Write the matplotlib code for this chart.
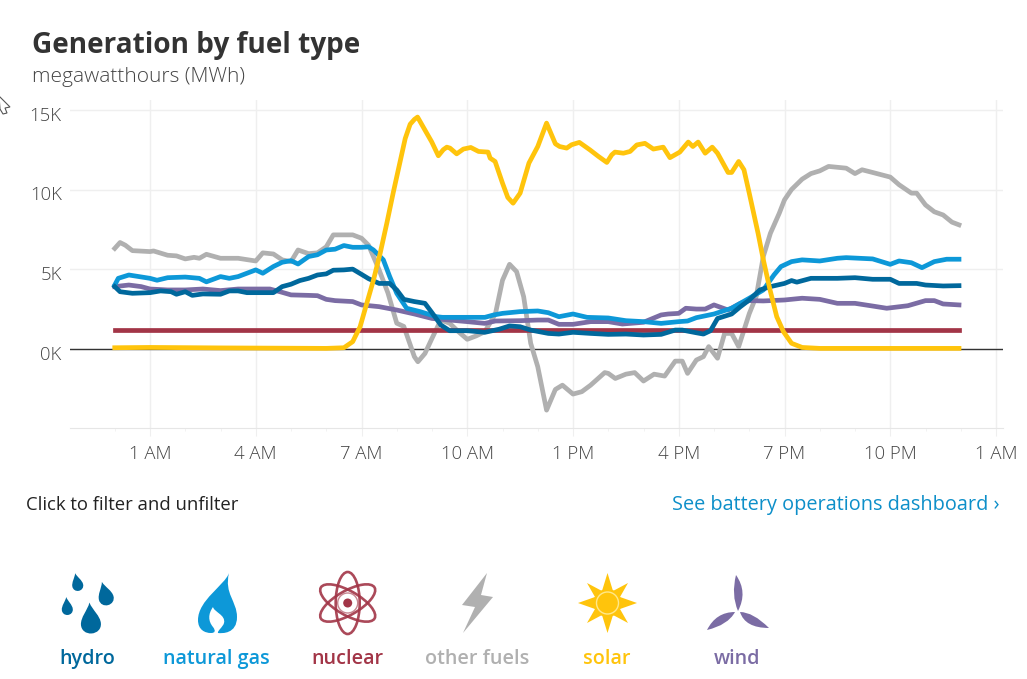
import matplotlib
matplotlib.use("Agg")
import matplotlib.pyplot as plt
from matplotlib.patches import Circle, Ellipse, PathPatch, Polygon
from matplotlib.path import Path
from matplotlib.ticker import FixedLocator
from matplotlib.transforms import Affine2D, ScaledTranslation

W, H = 1027, 679
plt.rcParams['font.family'] = ['Open Sans', 'DejaVu Sans']

HYDRO = '#00689c'
GAS = '#0d98d8'
NUCLEAR = '#a23547'
OTHER = '#b0b0b0'
SOLAR = '#ffc40c'
WIND = '#7b6ca4'

# readings in hours after midnight / thousand MWh
other_h = [0, .15, .3, .5, 1, 1.1, 1.5, 1.75, 2, 2.25, 2.4, 2.6, 3, 3.5, 4, 4.2, 4.5, 4.75, 5, 5.2, 5.5, 5.75, 6, 6.2, 6.5,
           6.75, 7, 7.2, 7.5, 7.75, 8, 8.2, 8.5, 8.6, 8.8, 9, 9.25, 9.5, 9.75, 10, 10.25, 10.5, 10.8, 11, 11.2, 11.4, 11.6,
           11.8, 12, 12.25, 12.5, 12.7, 13, 13.25, 13.5, 13.9, 14, 14.2, 14.5, 14.75, 15, 15.3, 15.6, 15.9, 16.1, 16.25,
           16.5, 16.7, 16.85, 17.1, 17.3, 17.5, 17.7, 18, 18.2, 18.4, 18.6, 18.85, 19, 19.2, 19.5, 19.75, 20, 20.25, 20.75,
           21, 21.2, 21.5, 22, 22.25, 22.6, 22.75, 23, 23.25, 23.5, 23.75, 23.95]
other_v = [6.3, 6.67, 6.5, 6.16, 6.1, 6.14, 5.87, 5.83, 5.64, 5.74, 5.68, 5.93, 5.68, 5.68, 5.51, 6.02, 5.95, 5.58, 5.47, 6.2,
           5.97, 6.02, 6.4, 7.15, 7.15, 7.15, 6.94, 6.5, 4.95, 3.5, 1.6, 1.4, -0.5, -0.82, -0.3, 0.65, 1.8, 1.6, 1.07, 0.59,
           0.8, 1.07, 2.2, 4.3, 5.3, 4.84, 3.27, 0.34, -1.13, -3.86, -2.56, -2.29, -2.85, -2.7, -2.29, -1.5, -1.55, -1.87,
           -1.6, -1.5, -2.03, -1.6, -1.72, -0.78, -0.78, -1.55, -0.71, -0.5, 0.13, -0.6, 0.96, 0.96, 0.13, 2.2, 3.3, 5.8,
           7.25, 8.5, 9.35, 10, 10.65, 11, 11.17, 11.45, 11.34, 11, 11.24, 11.07, 10.78, 10.3, 9.77, 9.77, 9.03, 8.6, 8.4,
           7.95, 7.78]

gas_h = [0, .1, .4, 1, 1.2, 1.5, 2, 2.4, 2.6, 3, 3.25, 3.5, 4, 4.2, 4.5, 4.75, 5, 5.2, 5.5, 5.75, 6, 6.25, 6.5, 6.75, 7, 7.2,
         7.34, 7.62, 7.8, 8, 8.28, 8.66, 9.13, 9.3, 10, 10.5, 10.75, 11, 11.5, 12, 12.3, 12.6, 13, 13.4, 14, 14.5, 15, 15.5, 16,
         16.25, 16.5, 17, 17.5, 18, 18.4, 18.7, 18.9, 19.2, 19.5, 20, 20.5, 20.75, 21.5, 22, 22.25, 22.6, 22.9, 23.25, 23.6, 23.95]
gas_v = [4.0, 4.42, 4.63, 4.42, 4.3, 4.46, 4.5, 4.42, 4.2, 4.53, 4.42, 4.53, 4.95, 4.74, 5.16, 5.43, 5.53, 5.32, 5.79, 5.9,
         6.2, 6.25, 6.48, 6.37, 6.37, 6.4, 6.2, 5.58, 4.53, 3.48, 2.54, 2.33, 2.01, 1.97, 1.97, 1.97, 2.12, 2.22, 2.33, 2.37, 2.26,
         2.01, 2.18, 1.97, 1.93, 1.76, 1.7, 1.59, 1.7, 1.74, 1.95, 2.18, 2.54, 3.17, 3.69, 4.63, 5.16, 5.47, 5.58, 5.51, 5.68,
         5.72, 5.64, 5.3, 5.51, 5.4, 5.09, 5.47, 5.62, 5.62]

hydro_h = [0, .15, .5, 1, 1.3, 1.6, 1.75, 2, 2.2, 2.5, 3, 3.25, 3.5, 3.75, 4.5, 4.75, 5, 5.25, 5.5, 5.75, 6, 6.2, 6.5, 6.75,
           7, 7.2, 7.5, 7.8, 8, 8.2, 8.5, 8.8, 9, 9.25, 9.5, 10, 10.5, 10.9, 11.2, 11.5, 11.8, 12.3, 12.6, 13, 13.5, 14, 14.5,
           15, 15.5, 15.9, 16.1, 16.5, 16.7, 16.9, 17.1, 17.5, 17.75, 18, 18.3, 18.6, 19, 19.2, 19.35, 19.75, 20.25, 20.5,
           21, 21.5, 22, 22.25, 22.75, 23, 23.5, 23.95]
hydro_v = [3.9, 3.58, 3.48, 3.52, 3.63, 3.58, 3.42, 3.58, 3.35, 3.44, 3.42, 3.63, 3.63, 3.52, 3.52, 3.9, 4.05, 4.28, 4.42, 4.63,
           4.7, 4.93, 4.95, 5.0, 4.67, 4.4, 4.1, 4.1, 3.69, 3.1, 2.96, 2.85, 2.26, 1.49, 1.13, 1.13, 1.03, 1.22, 1.43, 1.38,
           1.17, 0.96, 0.92, 1.03, 0.96, 0.9, 0.92, 0.86, 0.9, 1.17, 1.17, 1.0, 0.92, 1.13, 1.9, 2.18, 2.64, 3.06, 3.69, 3.9,
           4.1, 4.28, 4.18, 4.42, 4.42, 4.42, 4.46, 4.36, 4.36, 4.1, 4.1, 4.0, 3.94, 3.96]

wind_h = [0, .4, .75, 1, 1.5, 2, 2.5, 3, 3.5, 4, 4.4, 4.75, 5, 5.5, 5.75, 6, 6.25, 6.75, 7, 7.5, 8, 8.5, 9, 9.5, 10, 10.5, 10.8,
          11.5, 12, 12.3, 12.6, 13, 13.5, 14, 14.4, 15, 15.5, 15.7, 16, 16.2, 16.5, 16.75, 17, 17.4, 17.75, 18, 18.4, 19, 19.5,
          20, 20.5, 21, 21.5, 21.9, 22.5, 23, 23.25, 23.5, 23.95]
wind_v = [3.9, 4.0, 3.9, 3.75, 3.69, 3.69, 3.75, 3.65, 3.75, 3.75, 3.75, 3.54, 3.38, 3.35, 3.33, 3.1, 3.02, 2.96, 2.75, 2.64, 2.43,
          2.18, 1.9, 1.8, 1.7, 1.59, 1.74, 1.76, 1.8, 1.8, 1.53, 1.53, 1.7, 1.7, 1.55, 1.66, 2.12, 2.18, 2.22, 2.54, 2.49, 2.49,
          2.75, 2.43, 2.85, 3.02, 3.0, 3.06, 3.17, 3.1, 2.85, 2.85, 2.68, 2.54, 2.7, 3.02, 3.02, 2.81, 2.75]

nuclear_h = [0, 6, 12, 18, 23.95]
nuclear_v = [1.17, 1.17, 1.17, 1.17, 1.17]

solar_h = [0, 1, 3, 6, 6.5, 6.75, 6.96, 7.15, 7.34, 7.53, 7.72, 7.9, 8.09, 8.24, 8.38, 8.5, 8.59, 8.85, 8.99, 9.18, 9.32, 9.42, 9.51,
           9.7, 9.89, 10.1, 10.32, 10.59, 10.65, 10.79, 11, 11.15, 11.3, 11.5, 11.75, 12, 12.25, 12.5, 12.62, 12.82, 12.96, 13.18,
           13.48, 13.72, 13.96, 14.1, 14.19, 14.43, 14.62, 14.81, 15.04, 15.28, 15.56, 15.75, 16.03, 16.27, 16.4, 16.55, 16.75,
           16.95, 17.1, 17.4, 17.5, 17.7, 17.85, 18, 18.25, 18.4, 18.59, 18.78, 18.97, 19.2, 19.5, 20, 22, 23.95]
solar_v = [0.06, 0.08, 0.05, 0.02, 0.06, 0.44, 1.38, 2.85, 4.32, 6, 7.9, 9.8, 11.7, 13.2, 14.1, 14.4, 14.55, 13.54, 13.0, 12.12, 12.5,
           12.66, 12.6, 12.24, 12.54, 12.64, 12.39, 12.35, 11.97, 11.76, 10.4, 9.5, 9.14, 9.77, 11.66, 12.7, 14.17, 12.87, 12.7, 12.6,
           12.81, 12.96, 12.49, 12.08, 11.7, 12.18, 12.35, 12.28, 12.39, 12.8, 12.9, 12.54, 12.66, 12.0, 12.35, 12.98, 12.7, 12.98,
           12.28, 12.66, 12.28, 11.07, 11.07, 11.76, 11.24, 9.77, 7.25, 5.58, 3.69, 2.01, 1.07, 0.34, 0.08, 0.02, 0.02, 0.02]

x_ticks = [1, 4, 7, 10, 13, 16, 19, 22, 25]
x_labels = ['1 AM', '4 AM', '7 AM', '10 AM', '1 PM', '4 PM', '7 PM', '10 PM', '1 AM']
y_ticks = [0, 5, 10, 15]
y_labels = ['0K', '5K', '10K', '15K']
hour_ticks = [0, 2, 3, 5, 6, 8, 9, 11, 12, 14, 15, 17, 18, 20, 21, 23, 24]
fuel_labels = ['hydro', 'natural gas', 'nuclear', 'other fuels', 'solar', 'wind']
fuel_colors = [HYDRO, GAS, NUCLEAR, OTHER, SOLAR, WIND]
fuel_x = [87, 216, 347, 477, 607, 737]

fig = plt.figure(figsize=(W / 100, H / 100), dpi=100)

# chart axes: px 70..1003 across, 100..428 down
ax = fig.add_axes([70 / W, 1 - 428 / H, 933 / W, 328 / H])
ax.set_xlim((70 - 114.75) / 35.25, (1003 - 114.75) / 35.25)
ax.set_ylim((348.7 - 428) / 15.92, (348.7 - 100) / 15.92)

for s in ['top', 'right', 'left']:
    ax.spines[s].set_visible(False)
ax.spines['bottom'].set_color('#e6e6e6')
ax.grid(True, color='#efefef', lw=1)
ax.set_axisbelow(True)
ax.set_xticks(x_ticks, x_labels, fontweight='light')
ax.set_yticks(y_ticks, y_labels, fontweight='light')
ax.xaxis.set_minor_locator(FixedLocator(hour_ticks))
ax.tick_params(axis='y', length=0, labelsize=13.3, labelcolor='#444444', pad=6)
ax.tick_params(axis='x', which='major', length=6, color='#efefef', labelsize=13.3, labelcolor='#444444', pad=6)
ax.tick_params(axis='x', which='minor', length=2, color='#f0f0f0')
ax.axhline(0, color='#333333', lw=1, zorder=1.5)

# y labels sit a little under their gridlines in the reference
for t in ax.get_yticklabels():
    t.set_transform(t.get_transform() + ScaledTranslation(0, -4 / 100, fig.dpi_scale_trans))

lw = 3.4
ax.plot(other_h, other_v, color=OTHER, lw=lw, solid_joinstyle='round')
ax.plot(nuclear_h, nuclear_v, color=NUCLEAR, lw=lw)
ax.plot(wind_h, wind_v, color=WIND, lw=lw, solid_joinstyle='round')
ax.plot(gas_h, gas_v, color=GAS, lw=lw, solid_joinstyle='round')
ax.plot(hydro_h, hydro_v, color=HYDRO, lw=lw, solid_joinstyle='round')
ax.plot(solar_h, solar_v, color=SOLAR, lw=lw, solid_joinstyle='round')

# overlay in pixels for the texts and the icons
ov = fig.add_axes([0, 0, 1, 1], zorder=5)
ov.set_xlim(0, W)
ov.set_ylim(H, 0)
ov.axis('off')
ov.patch.set_alpha(0)

ov.text(32, 46, 'Generation by fuel type', fontsize=20.2, fontweight='bold', color='#333333', va='center')
ov.text(32, 77, 'megawatthours (MWh)', fontsize=15, fontweight='light', color='#444444', va='center')
ov.text(26, 505, 'Click to filter and unfilter', fontsize=13.35, color='#222222', va='center')
ov.text(999, 505, 'See battery operations dashboard \u203a', fontsize=14.3, color='#0d8fc9', va='center', ha='right')

for label, color, x in zip(fuel_labels, fuel_colors, fuel_x):
    ov.text(x, 659, label, fontsize=14.2, fontweight='semibold', color=color, ha='center', va='center')


def drop(cx, cy, w, h, color, angle=0):
    # tip at the top, round belly at the bottom
    verts = [(0, -h / 2), (w * .12, -h * .25), (w / 2, -h * .05), (w / 2, h * .2), (w / 2, h * .38), (w * .28, h / 2), (0, h / 2),
             (-w * .28, h / 2), (-w / 2, h * .38), (-w / 2, h * .2), (-w / 2, -h * .05), (-w * .12, -h * .25), (0, -h / 2)]
    codes = [Path.MOVETO] + [Path.CURVE4] * 12
    tr = Affine2D().rotate_deg(angle).translate(cx, cy) + ov.transData
    ov.add_patch(PathPatch(Path(verts, codes), fc=color, ec='none', transform=tr))


# hydro
drop(77, 582, 11, 18, HYDRO, -12)
drop(105, 593.5, 15, 24, HYDRO, -15)
drop(67, 606, 11, 18, HYDRO, -5)
drop(90.5, 618, 20, 31, HYDRO, -4)

# natural gas
flame = [(229, 573), (225, 585), (198, 600), (198, 620), (198, 630), (205, 633), (211, 633), (215, 633), (216, 631), (213, 627),
         (208, 621), (208, 614), (213, 607), (214, 612), (226, 615), (224, 623), (223, 627), (217, 631), (218, 633),
         (222, 633.5), (237, 634), (237, 617), (237, 601), (224, 594), (229, 573)]
ov.add_patch(PathPatch(Path(flame, [Path.MOVETO] + [Path.CURVE4] * 24), fc=GAS, ec='none'))

# nuclear
for ang in [90, 30, 150]:
    ov.add_patch(Ellipse((347.7, 603), 62, 24, angle=ang, fc='none', ec=NUCLEAR, lw=1.9, alpha=.9))
ov.add_patch(Circle((347.7, 603), 4.5, fc=NUCLEAR, ec='none'))
ov.add_patch(Circle((347.7, 603), 10, fc='none', ec=NUCLEAR, lw=1, alpha=.6))

# other fuels
bolt = [(487, 573), (462, 605), (475, 607), (463, 633), (493, 597), (481, 595)]
ov.add_patch(Polygon(bolt, closed=True, fc=OTHER, ec='none'))

# solar
sun_pts = [(607.5, 573), (613, 591), (628, 583), (620, 597), (637, 603), (620, 609), (628, 623), (613, 615), (607.5, 633),
           (602, 615), (587, 623), (595, 609), (578, 603), (595, 597), (587, 583), (602, 591)]
ov.add_patch(Polygon(sun_pts, closed=True, fc=SOLAR, ec='none'))
ov.add_patch(Circle((607.5, 603), 14, fc=SOLAR, ec='none'))
ov.add_patch(Circle((607.5, 603), 11, fc='none', ec='#ffe88a', lw=1))

# wind
blades = [[(736, 575), (748, 592), (738, 611), (731, 595), (736, 575)],
          [(707, 630), (716, 612), (735, 612), (728, 625), (707, 630)],
          [(769, 628), (753, 612), (740, 612), (745, 628), (769, 628)]]
for b in blades:
    ov.add_patch(PathPatch(Path(b, [Path.MOVETO, Path.CURVE3, Path.CURVE3, Path.CURVE3, Path.CURVE3]), fc=WIND, ec='none'))

# mouse pointer at the left edge
ov.add_patch(Polygon([(-1, 96), (10, 107), (5, 108), (7, 113), (3, 114), (0, 109)], closed=True, fc='white', ec='#555555', lw=.8))

fig.savefig('out.png', dpi=100)
